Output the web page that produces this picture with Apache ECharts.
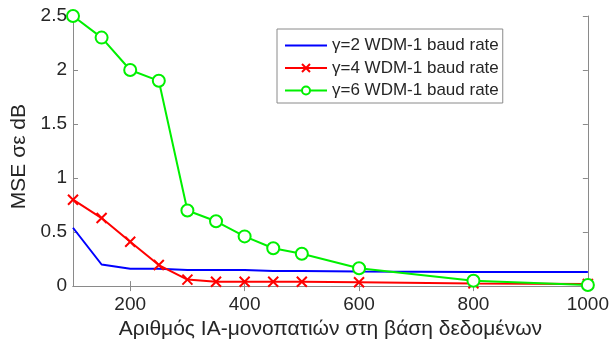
<!DOCTYPE html>
<html>
<head>
<meta charset="utf-8">
<script src="https://cdn.jsdelivr.net/npm/echarts@6/dist/echarts.min.js"></script>
<style>
  html, body { margin: 0; padding: 0; background: #fff; }
  #chart { width: 612px; height: 345px; }
</style>
</head>
<body>
<div id="chart"></div>
<script>
// Number of IA paths in the database
const pathCounts = [100, 150, 200, 250, 300, 350, 400, 450, 500, 600, 800, 1000];

// MSE (dB) per spectral efficiency setting
const mseGamma2 = [0.54, 0.20, 0.16, 0.16, 0.15, 0.15, 0.15, 0.14, 0.14, 0.135, 0.13, 0.13];
const mseGamma4 = [0.80, 0.63, 0.41, 0.195, 0.06, 0.04, 0.04, 0.04, 0.04, 0.035, 0.025, 0.02];
const mseGamma6 = [2.50, 2.30, 2.00, 1.90, 0.70, 0.60, 0.46, 0.35, 0.30, 0.165, 0.05, 0.01];

const seriesNames = ['γ=2 WDM-1 baud rate', 'γ=4 WDM-1 baud rate', 'γ=6 WDM-1 baud rate'];
const xTickValues = [200, 400, 600, 800, 1000];

const FONT = '"Liberation Sans", Arial, sans-serif';
const AXIS_GREY = '#8a8a8a';
const TEXT_DARK = '#262626';
const HIDDEN = 'rgba(0,0,0,0)';

const pairs = ys => pathCounts.map((x, i) => [x, ys[i]]);

const chart = echarts.init(document.getElementById('chart'), null, { renderer: 'canvas' });

const baseAxisLine = { show: true, lineStyle: { color: AXIS_GREY, width: 1 } };
const plainNumber = v => String(v);

chart.setOption({
  animation: false,
  backgroundColor: '#ffffff',
  textStyle: { fontFamily: FONT },
  grid: { left: 73, right: 24, top: 16, bottom: 58, containLabel: false },
  legend: {
    orient: 'vertical',
    left: 277,
    top: 29,
    backgroundColor: '#ffffff',
    borderColor: AXIS_GREY,
    borderWidth: 1,
    padding: [8, 4, 4, 7],
    itemGap: 5.5,
    itemWidth: 42,
    itemHeight: 10,
    textStyle: { fontFamily: FONT, fontSize: 17, color: TEXT_DARK },
    data: [
      // the γ=2 curve has no markers, so its key shows the line only
      { name: seriesNames[0], itemStyle: { color: HIDDEN, borderColor: HIDDEN, borderWidth: 0 } },
      { name: seriesNames[1] },
      { name: seriesNames[2] }
    ]
  },
  xAxis: [
    {
      type: 'value', min: 100, max: 1000,
      name: 'Αριθμός ΙΑ-μονοπατιών στη βάση δεδομένων',
      nameLocation: 'middle', nameGap: 28,
      nameTextStyle: { fontFamily: FONT, fontSize: 21, color: TEXT_DARK },
      axisLine: baseAxisLine,
      axisTick: { show: true, inside: true, length: 5, customValues: xTickValues, lineStyle: { color: AXIS_GREY } },
      axisLabel: { show: true, customValues: xTickValues, formatter: plainNumber, margin: 9, fontFamily: FONT, fontSize: 19, color: TEXT_DARK },
      splitLine: { show: false }
    },
    {
      type: 'value', min: 100, max: 1000, position: 'top',
      axisLine: baseAxisLine,
      axisTick: { show: true, inside: true, length: 5, customValues: xTickValues, lineStyle: { color: AXIS_GREY } },
      axisLabel: { show: false },
      splitLine: { show: false }
    }
  ],
  yAxis: [
    {
      type: 'value', min: 0, max: 2.5, interval: 0.5,
      name: 'MSE σε dB',
      nameLocation: 'middle', nameGap: 35,
      nameTextStyle: { fontFamily: FONT, fontSize: 21, color: TEXT_DARK, padding: [0, 11, 0, 0] },
      axisLine: baseAxisLine,
      axisTick: { show: true, inside: true, length: 5, lineStyle: { color: AXIS_GREY } },
      axisLabel: { margin: 6, fontFamily: FONT, fontSize: 19, color: TEXT_DARK },
      splitLine: { show: false }
    },
    {
      type: 'value', min: 0, max: 2.5, interval: 0.5, position: 'right',
      axisLine: baseAxisLine,
      axisTick: { show: true, inside: true, length: 5, lineStyle: { color: AXIS_GREY } },
      axisLabel: { show: false },
      splitLine: { show: false }
    }
  ],
  series: [
    {
      name: seriesNames[0], type: 'line', data: pairs(mseGamma2),
      symbol: 'none',
      lineStyle: { color: '#0000ff', width: 2 },
      itemStyle: { color: '#0000ff' },
      z: 3
    },
    {
      name: seriesNames[1], type: 'line', data: pairs(mseGamma4),
      symbol: 'path://M0,0L10,10M10,0L0,10', symbolSize: 10,
      lineStyle: { color: '#ff0000', width: 2 },
      itemStyle: { color: '#ff0000', borderColor: '#ff0000', borderWidth: 2 },
      z: 4
    },
    {
      name: seriesNames[2], type: 'line', data: pairs(mseGamma6),
      symbol: 'emptyCircle', symbolSize: 12,
      lineStyle: { color: '#00f000', width: 2 },
      itemStyle: { color: '#00f000', borderColor: '#00f000', borderWidth: 2 },
      z: 5
    }
  ]
});
</script>
</body>
</html>
